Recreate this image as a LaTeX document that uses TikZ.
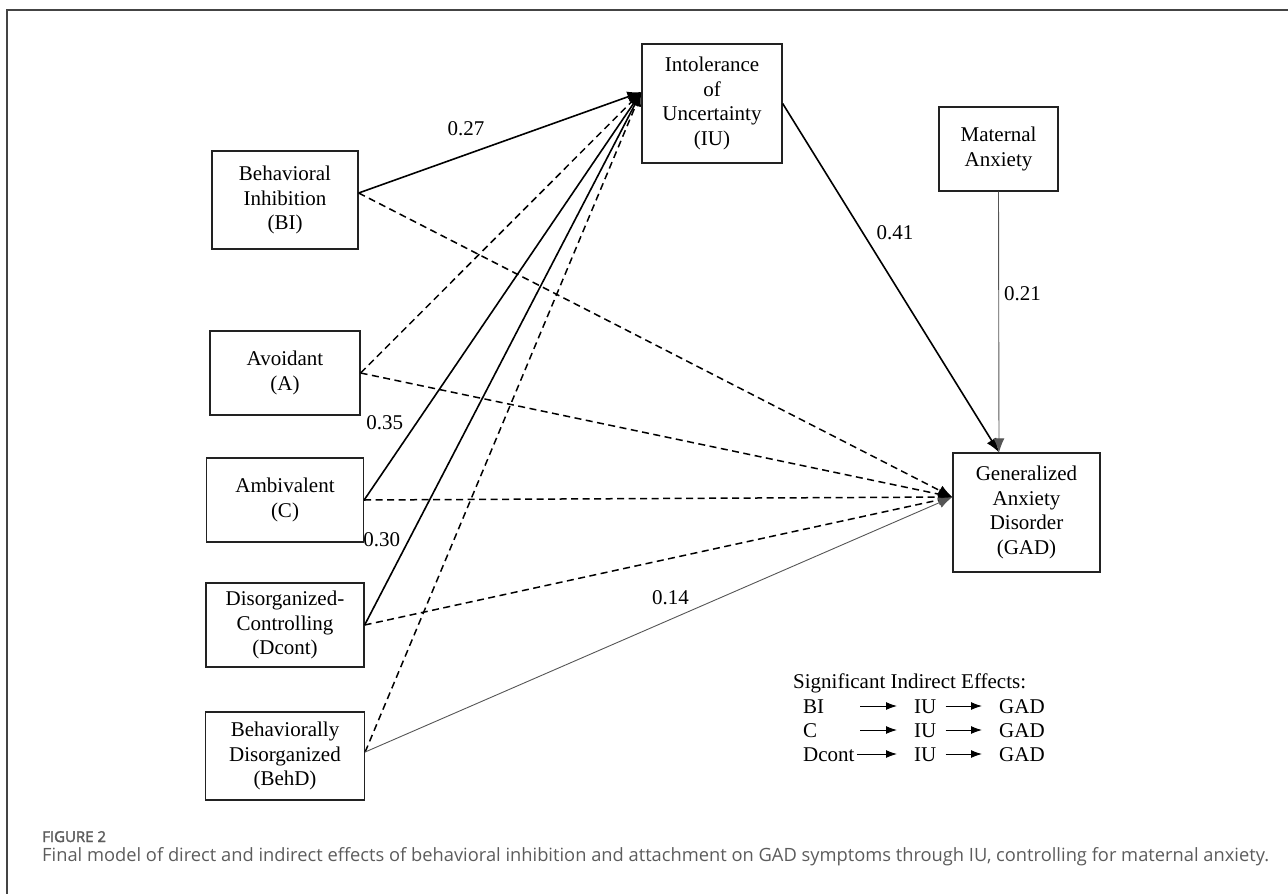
\documentclass[tikz,border=0pt]{standalone}
\usepackage{fontspec}
\setmainfont{Liberation Serif}
\newfontfamily\capfont{Open Sans}
\newfontfamily\capheadfont{Open Sans}[FakeBold=2]
\usepackage{tikz}
\usetikzlibrary{arrows.meta,positioning}

\definecolor{boxline}{HTML}{222222}
\definecolor{thinline}{HTML}{555555}
\definecolor{capgray}{HTML}{5C5C5C}
\definecolor{framegray}{HTML}{444444}

\tikzset{
  var/.style={draw=boxline, line width=1.3pt, align=center, inner sep=2pt,
    font=\fontsize{21}{24.5}\selectfont},
  coef/.style={font=\fontsize{21}{24.5}\selectfont, inner sep=1pt},
  sig/.style={->, line width=1.6pt},
  nsig/.style={->, line width=1.5pt, dash pattern=on 7pt off 4.5pt},
  ctrl/.style={->, line width=0.9pt, draw=thinline},
  leg/.style={font=\fontsize{21}{24.5}\selectfont, inner sep=0pt,
    text height=14pt, text depth=0pt, anchor=west},
  legarr/.style={-{Latex[length=11pt,width=8pt]}, line width=1pt},
}

\begin{document}
\begin{tikzpicture}[x=1pt,y=-1pt,>={Latex[length=14pt,width=11pt]},on grid]
  \useasboundingbox (0,0) rectangle (1288,894);
  \draw[framegray, line width=1.2pt] (7,894) -- (7,10) -- (1288,10);

  % predictors
  \node[var, minimum width=146pt, minimum height=98pt] (bi) at (285,200) {Behavioral\\Inhibition\\(BI)};
  \node[var, minimum width=150pt, minimum height=84pt] (av) [below = 173pt of bi] {Avoidant\\(A)};
  \node[var, minimum width=157pt, minimum height=84pt] (amb) [below = 127pt of av] {Ambivalent\\(C)};
  \node[var, minimum width=158pt, minimum height=84pt] (dcont) [below = 125pt of amb] {Disorganized-\\Controlling\\(Dcont)};
  \node[var, minimum width=159pt, minimum height=88pt] (behd) [below = 131pt of dcont] {Behaviorally\\Disorganized\\(BehD)};

  % mediator, control, outcome
  \node[var, minimum width=140pt, minimum height=119pt] (iu) at (712,103.5) {Intolerance\\of\\Uncertainty\\(IU)};
  \node[var, minimum width=119pt, minimum height=84pt] (mat) at (998.5,149) {Maternal\\Anxiety};
  \node[var, minimum width=147pt, minimum height=119pt] (gad) at (1026.5,512.5) {Generalized\\Anxiety\\Disorder\\(GAD)};

  \coordinate (iuin) at ([yshift=11.5pt]iu.west);
  \coordinate (gadin) at ([yshift=15.5pt]gad.west);
  \coordinate (gadtop) at ([xshift=-27.5pt]gad.north);

  % non-significant paths
  \draw[nsig] ([yshift=7pt]bi.east) -- (gadin);
  \draw[nsig] (av.east) -- (gadin);
  \draw[nsig] (amb.east) -- (gadin);
  \draw[nsig] (dcont.east) -- (gadin);
  \draw[nsig] (av.east) -- (iuin);
  \draw[nsig] ([yshift=4pt]behd.east) -- (iuin);

  % significant paths
  \draw[sig] ([yshift=7pt]bi.east) -- node[coef, pos=.38, above=17pt] {0.27} (iuin);
  \draw[sig] (amb.east) -- node[coef, pos=.19, left=12pt] {0.35} (iuin);
  \draw[sig] (dcont.east) -- node[coef, pos=.16, left=7pt] {0.30} (iuin);
  \draw[ctrl] ([yshift=4pt]behd.east) -- node[coef, pos=.52, above=13pt] {0.14} (gadin);
  \draw[sig] (iu.east) -- node[coef, pos=.37, right=12pt] {0.41} (gadtop);
  \draw[ctrl] (mat.south) -- node[coef, pos=.39, right=4pt] {0.21} (gadtop);

  % indirect effects
  \node[leg] (ttl) at (793,681) {Significant Indirect Effects:};
  \node[leg, text width=57pt, align=left] (bi1) at (803,706) {BI};
  \node[leg] (iu1) at (914,706) {IU};
  \node[leg] (gad1) at (999,706) {GAD};
  \node[leg, text width=57pt, align=left] (c2) at (803,730) {C};
  \node[leg] (iu2) at (914,730) {IU};
  \node[leg] (gad2) at (999,730) {GAD};
  \node[leg, text width=54pt, align=left] (dc3) at (803,754) {Dcont};
  \node[leg] (iu3) at (914,754) {IU};
  \node[leg] (gad3) at (999,754) {GAD};
  \foreach \a/\b/\c in {bi1/iu1/gad1, c2/iu2/gad2, dc3/iu3/gad3}
  {
    \draw[legarr, shorten >=17pt] (\a.east) -- (\b.west);
    \draw[legarr, shorten <=9pt, shorten >=17pt] (\b.east) -- (\c.west);
  }

  % caption
  \node[anchor=base west, inner sep=0pt, text=capgray, font=\capheadfont\fontsize{15}{18}\selectfont] (fig) at (42,842) {FIGURE 2};
  \node[anchor=base west, inner sep=0pt, text=capgray, font=\capfont\fontsize{18.3}{22}\selectfont] (cap) at (42,861) {Final model of direct and indirect effects of behavioral inhibition and attachment on GAD symptoms through IU, controlling for maternal anxiety.};
\end{tikzpicture}
\end{document}
